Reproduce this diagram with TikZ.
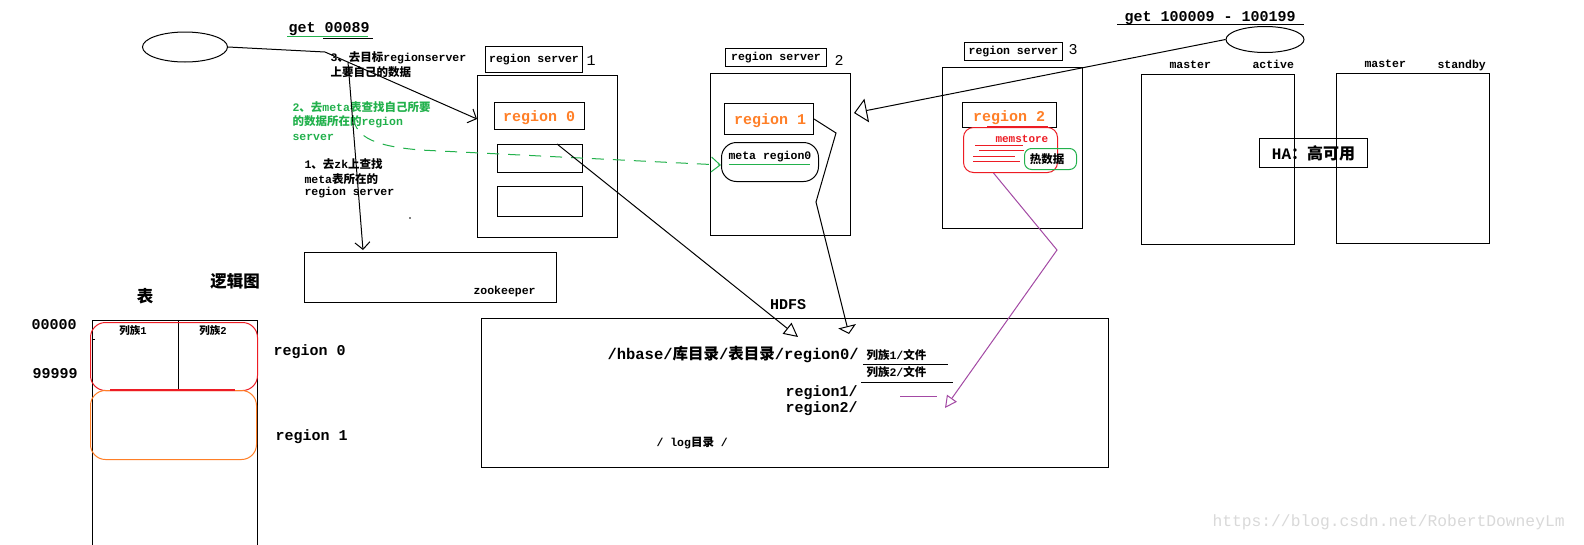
\documentclass[tikz,border=0pt]{standalone}
\usepackage{fontspec}
\setmainfont{Liberation Mono}
\newfontfamily\cjk{Noto Sans CJK SC}
\usetikzlibrary{arrows.meta,shapes.geometric,calc}
\definecolor{pgreen}{HTML}{22B14C}
\definecolor{porange}{HTML}{FF7F27}
\definecolor{pred}{HTML}{ED1C24}
\definecolor{ppurple}{HTML}{A349A4}
\newcommand{\C}[1]{{\cjk #1}}
\newcommand{\fs}[1]{\fontsize{#1}{#1}\selectfont}
\begin{document}
\begin{tikzpicture}[x=1pt,y=-1pt,line width=1pt,
  box/.style={draw,anchor=north west,inner sep=0pt,line width=1pt},
  rbox/.style={box,rounded corners=12pt},
  lab/.style={anchor=west,inner sep=0pt,font=\fs{11.5}\bfseries},
  big/.style={anchor=west,inner sep=0pt,font=\fs{15}\bfseries},
  vbarb/.style={-{Straight Barb[length=7pt,width=15pt]}},
]
\useasboundingbox (0,0) rectangle (1584,544);
\fill[white] (0,0) rectangle (1584,544);

% ---------- client 1 ----------
\node[draw,ellipse,minimum width=85pt,minimum height=30pt,inner sep=0pt] (e1) at (185,47) {};
\node[big] (g1t) at (288,29) {get 00089};
\draw[pgreen] (287,36) -- (368,36);
\draw (323,38) -- (373,38);

\node[lab] (s3a) at (330,58) {3\C{、去目标}regionserver};
\node[lab] (s3b) at (330,72) {\C{上要自己的数据}};
\node[lab,text=pgreen] (s2a) at (292,107) {2\C{、去}meta\C{表查找自己所要}};
\node[lab,text=pgreen] (s2b) at (292,122) {\C{的数据所在的}region};
\node[lab,text=pgreen] (s2c) at (292,137) {server};
\node[lab] (s1a) at (304,164) {1\C{、去}zk\C{上查找}};
\node[lab] (s1b) at (304,179) {meta\C{表所在的}};
\node[lab] (s1c) at (304,193) {region server};
\fill (410,218) circle (0.8pt);

% ---------- region server 1 ----------
\node[box,minimum width=97pt,minimum height=26pt,font=\fs{11.5}\bfseries] (rs1l) at (485,46) {region server};
\node[anchor=west,inner sep=0pt,font=\fs{15}] (rs1n) at (586,61) {1};
\node[box,minimum width=140pt,minimum height=162pt] (rs1) at (477,75) {};
\node[box,minimum width=90pt,minimum height=27pt] (r0) at (494,102) {};
\node[inner sep=0pt,font=\fs{15}\bfseries,text=porange] (r0t) at (539,118) {region 0};
\node[box,minimum width=85pt,minimum height=28pt] (b2) at (497,144) {};
\node[box,minimum width=85pt,minimum height=30pt] (b3) at (497,186) {};

% ---------- region server 2 ----------
\node[box,minimum width=101pt,minimum height=18pt,font=\fs{11.5}\bfseries] (rs2l) at (725,48) {region server};
\node[anchor=west,inner sep=0pt,font=\fs{15}] (rs2n) at (834,60) {2};
\node[box,minimum width=140pt,minimum height=162pt] (rs2) at (710,73) {};
\node[box,minimum width=89pt,minimum height=31pt] (r1) at (724,103) {};
\node[inner sep=0pt,font=\fs{15}\bfseries,text=porange] (r1t) at (770,121) {region 1};
\node[rbox,rounded corners=15pt,minimum width=97pt,minimum height=39pt] (meta) at (721,142) {};
\node[lab] (metat) at (728,157) {meta region0};
\draw[pgreen] (729,164) -- (810,164);

% ---------- region server 3 ----------
\node[box,minimum width=98pt,minimum height=18pt,font=\fs{11.5}\bfseries] (rs3l) at (964,42) {region server};
\node[anchor=west,inner sep=0pt,font=\fs{15}] (rs3n) at (1068,50) {3};
\node[box,minimum width=140pt,minimum height=161pt] (rs3) at (942,67) {};
\node[box,minimum width=94pt,minimum height=25pt] (r2) at (962,102) {};
\node[inner sep=0pt,font=\fs{15}\bfseries,text=porange] (r2t) at (1009,118) {region 2};
\node[rbox,draw=pred,rounded corners=10pt,minimum width=94pt,minimum height=45pt] (mem) at (963,127) {};
\draw[pred,line width=2pt] (987,127) -- (1048,127);
\node[lab,text=pred,font=\fs{11}\bfseries] (memt) at (995,139) {memstore};
\draw[pred] (975,145) -- (1023,145);
\draw[pred] (979,150) -- (1024,150);
\draw[pred] (973,156) -- (1015,156);
\draw[pred] (973,161) -- (1020,161);
\node[rbox,draw=pgreen,rounded corners=7pt,minimum width=52pt,minimum height=21pt] (hot) at (1024,148) {};
\node[inner sep=0pt,font=\fs{11.5}\cjk\bfseries] (hott) at (1047,159) {热数据};

% ---------- client 2 ----------
\node[draw,ellipse,minimum width=78pt,minimum height=26pt,inner sep=0pt] (e2) at (1265,39.5) {};
\node[big] (g2t) at (1124,18) {get 100009 - 100199};
\draw (1117,24) -- (1304,24);

% ---------- masters ----------
\node[box,minimum width=153pt,minimum height=170pt] (m1) at (1141,74) {};
\node[box,minimum width=153pt,minimum height=170pt] (m2) at (1336,73) {};
\node[lab] (m1a) at (1169,65) {master};
\node[lab] (m1b) at (1252,64) {active};
\node[lab] (m2a) at (1364,64) {master};
\node[lab] (m2b) at (1437,66) {standby};
\node[box,minimum width=108pt,minimum height=29pt,font=\fs{16}\bfseries] (ha) at (1259,138) {HA\C{：高可用}};

% ---------- zookeeper ----------
\node[box,minimum width=252pt,minimum height=50pt] (zk) at (304,252) {};
\node[lab] (zkt) at (473,292) {zookeeper};

% ---------- HDFS ----------
\node[inner sep=0pt,font=\fs{15}\bfseries] (hdfst) at (788,305) {HDFS};
\node[box,minimum width=627pt,minimum height=149pt] (hdfs) at (481,318) {};
\node[anchor=west,inner sep=0pt,font=\fs{15.5}\bfseries] (path) at (607,354) {/hbase/\C{库目录}/\C{表目录}/region0/};
\node[lab] (cf1) at (866,355) {\C{列族}1/\C{文件}};
\node[lab] (cf2) at (866,372) {\C{列族}2/\C{文件}};
\draw (863,364) -- (948,364);
\draw (861,382) -- (953,382);
\node[big] (reg1) at (785,393) {region1/};
\node[big] (reg2) at (785,409) {region2/};
\node[lab] (logt) at (656,443) {/ log\C{目录} /};
\draw[ppurple] (900,396) -- (937,396);

% ---------- logical table ----------
\node[inner sep=0pt,font=\fs{16.5}\cjk\bfseries] (biao) at (145,296) {表};
\node[inner sep=0pt,font=\fs{16.5}\cjk\bfseries] (ljt) at (235,281) {逻辑图};
\draw (92,550) -- (92,320) -- (257,320) -- (257,550);
\draw (178,320) -- (178,389);
\draw (92,339) -- (95,339);
\node[inner sep=0pt,font=\fs{10.5}\bfseries] (cf1t) at (133,330) {\C{列族}1};
\node[inner sep=0pt,font=\fs{10.5}\bfseries] (cf2t) at (213,330) {\C{列族}2};
\node[rbox,draw=pred,rounded corners=15pt,minimum width=167pt,minimum height=68pt] (treg0) at (90,322) {};
\node[rbox,draw=porange,rounded corners=15pt,minimum width=166pt,minimum height=69pt] (treg1) at (90,390) {};
\draw[pred,line width=1.6pt] (110,390) -- (235,390);
\node[big] (k0) at (31,325) {00000};
\node[big] (k9) at (32,374) {99999};
\node[big] (tr0) at (273,352) {region 0};
\node[big] (tr1) at (275,437) {region 1};

% ---------- connectors ----------
\coordinate (j1) at (325,52);
\coordinate (j2) at (348,62);
\draw[vbarb] (e1.east) -- (j1) -- ([yshift=-44pt]rs1.north west);
\draw[vbarb] (j2) -- ([xshift=59pt,yshift=2pt]zk.north west);

\coordinate (g0) at (353,118);
\coordinate (gm) at (420,150);
\draw[pgreen,dash pattern=on 12pt off 9pt,-{Straight Barb[length=9pt,width=15pt]}]
  (g0) .. controls (357,138) and (375,146) .. (gm) -- ([yshift=-3pt]meta.west);

\coordinate (h1) at (798,337);
\draw[-{Triangle[open,length=14pt,width=14pt]}] ([xshift=17pt]b2.north) -- (h1);

\coordinate (z1) at (836,133);
\coordinate (z2) at (816,202);
\coordinate (h2) at (849,334);
\draw[-{Triangle[open,length=8pt,width=18pt]}] (r1.east) -- (z1) -- (z2) -- (h2);

\draw[-{Triangle[open,length=13pt,width=24pt]}] (e2.west) -- ([xshift=3pt,yshift=-40pt]rs2.north east);

\coordinate (p1) at (1057,250);
\coordinate (h3) at (945,408);
\draw[ppurple,-{Triangle[open,length=12pt,width=12pt]}] ([xshift=-17pt]mem.south) -- (p1) -- (h3);

% ---------- watermark ----------
\node[anchor=west,inner sep=0pt,font=\fs{16.3},text=black!15] (wm) at (1212,522) {https://blog.csdn.net/RobertDowneyLm};
\end{tikzpicture}
\end{document}
